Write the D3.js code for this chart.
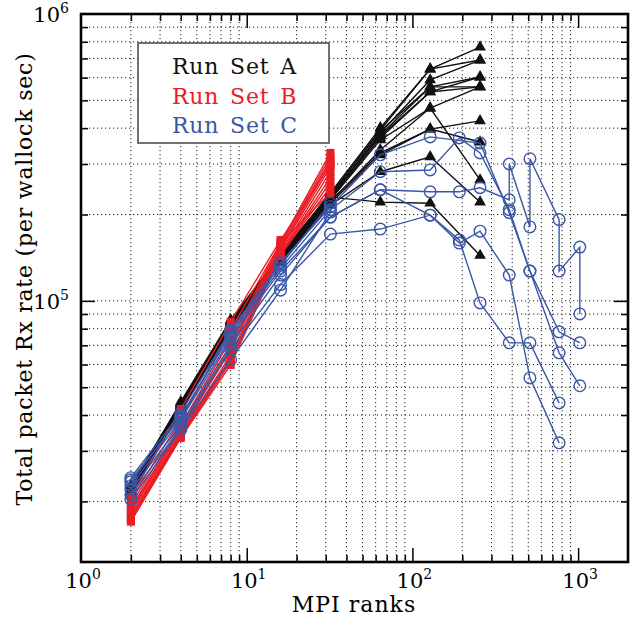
<!DOCTYPE html>
<html>
<head>
<meta charset="utf-8">
<script src="https://cdn.jsdelivr.net/npm/d3@7"></script>
<style>
  body { margin: 0; background: #fff; }
  svg { display: block; font-family: "DejaVu Serif", serif; }
</style>
</head>
<body>
<div id="container"></div>
<script>
// legend / set names
let legendLabels = ["Run Set A", "Run Set B", "Run Set C"];
let setColors = ["#111111", "#ec1c24", "#3a57a7"];

// Run Set A (black triangles), all runs share the same rank counts
let ranksA = [2, 4, 8, 16, 32, 64, 128, 256];
let ratesA = [
  [2.20e4, 4.45e4, 8.59e4, 1.45e5, 2.38e5, 4.01e5, 6.43e5, 7.67e5],
  [2.23e4, 4.38e4, 8.45e4, 1.44e5, 2.34e5, 3.94e5, 6.43e5, 6.91e5],
  [2.16e4, 4.31e4, 8.32e4, 1.41e5, 2.30e5, 3.85e5, 5.89e5, 6.91e5],
  [2.27e4, 4.41e4, 8.52e4, 1.44e5, 2.36e5, 3.91e5, 5.57e5, 6.03e5],
  [2.20e4, 4.34e4, 8.38e4, 1.42e5, 2.32e5, 3.79e5, 5.57e5, 5.57e5],
  [2.14e4, 4.24e4, 8.25e4, 1.40e5, 2.29e5, 3.76e5, 5.35e5, 5.57e5],
  [2.21e4, 4.31e4, 8.32e4, 1.41e5, 2.27e5, 3.70e5, 5.35e5, 6.03e5],
  [2.18e4, 4.27e4, 8.18e4, 1.39e5, 2.25e5, 3.64e5, 4.70e5, 5.57e5],
  [2.13e4, 4.20e4, 8.05e4, 1.37e5, 2.21e5, 3.36e5, 4.70e5, 2.64e5],
  [2.11e4, 4.17e4, 8.12e4, 1.37e5, 2.23e5, 3.28e5, 3.97e5, 4.24e5],
  [2.16e4, 4.24e4, 8.18e4, 1.38e5, 2.19e5, 3.23e5, 3.97e5, 3.58e5],
  [2.09e4, 4.14e4, 7.92e4, 1.36e5, 2.16e5, 2.82e5, 3.18e5, 2.21e5],
  [2.13e4, 4.17e4, 8.05e4, 1.37e5, 2.30e5, 2.21e5, 2.19e5, 1.44e5]
];

// Run Set B (red squares)
let ranksB = [2, 4, 8, 16, 32];
let ratesB = [
  [1.95e4, 3.70e4, 7.31e4, 1.59e5, 3.28e5],
  [1.90e4, 3.61e4, 7.03e4, 1.57e5, 3.18e5],
  [1.87e4, 3.55e4, 6.86e4, 1.54e5, 3.10e5],
  [1.84e4, 3.50e4, 6.75e4, 1.52e5, 3.03e5],
  [1.80e4, 3.44e4, 6.48e4, 1.51e5, 2.93e5],
  [1.77e4, 3.41e4, 6.33e4, 1.48e5, 2.82e5],
  [1.74e4, 3.39e4, 6.23e4, 1.46e5, 2.70e5],
  [1.71e4, 3.36e4, 6.13e4, 1.45e5, 2.60e5],
  [1.70e4, 3.33e4, 5.98e4, 1.44e5, 2.50e5],
  [2.03e4, 3.85e4, 7.92e4, 1.59e5, 2.38e5],
  [2.08e4, 4.20e4, 8.45e4, 1.63e5, 2.98e5]
];

// Run Set C (blue circles), each run has its own rank list
let ranksC = [
  [2, 4, 8, 16, 32, 64, 128, 256, 384, 512, 768, 1024],
  [2, 4, 8, 16, 32, 64, 128, 192, 256, 384, 512, 768, 1024],
  [2, 4, 8, 16, 32, 64, 128, 192, 256, 384, 384, 512, 512, 768, 768, 1024, 1024],
  [2, 4, 8, 16, 32, 64, 128, 192, 256, 384, 512, 768],
  [2, 4, 8, 16, 32, 64, 128, 192, 256, 384, 512, 768],
  [2, 4, 8, 16, 32],
  [2, 4, 8, 16, 32]
];
let ratesC = [
  [2.42e4, 4.07e4, 7.92e4, 1.36e5, 2.13e5, 3.23e5, 3.73e5, 3.55e5, 2.03e5, 1.27e5, 6.59e4, 5.06e4],
  [2.34e4, 3.97e4, 7.61e4, 1.30e5, 2.08e5, 2.82e5, 2.86e5, 3.70e5, 3.28e5, 2.08e5, 1.27e5, 7.80e4, 7.14e4],
  [2.27e4, 3.85e4, 7.43e4, 1.27e5, 1.96e5, 2.44e5, 2.40e5, 2.40e5, 2.48e5, 2.25e5, 3.00e5, 1.81e5, 3.13e5, 1.92e5, 1.27e5, 1.54e5, 9.01e4],
  [2.20e4, 3.70e4, 7.03e4, 1.23e5, 1.96e5, 2.44e5, 1.99e5, 1.63e5, 9.84e4, 7.14e4, 7.14e4, 4.41e4],
  [2.11e4, 3.61e4, 6.75e4, 1.14e5, 1.71e5, 1.78e5, 1.99e5, 1.59e5, 1.75e5, 1.23e5, 5.39e4, 3.20e4],
  [2.38e4, 3.91e4, 7.80e4, 1.33e5, 2.19e5],
  [2.03e4, 3.55e4, 6.23e4, 1.09e5, 2.04e5]
];

// labelled decades
let xTicks = [1, 10, 100, 1000];
let yTicks = [1e5, 1e6];

let w = 634;
let h = 619;
let padLeft = 81, padRight = 628, padTop = 14, padBottom = 562;

let viz = d3.select("#container")
  .append("svg")
    .attr("width", w)
    .attr("height", h)
;

let xScale = d3.scaleLog().domain([1, 2000]).range([padLeft, padRight]);
let yScale = d3.scaleLog().domain([1.23e4, 1e6]).range([padBottom, padTop]);

let isDecade = function(v){ return Math.abs(Math.log10(v) - Math.round(Math.log10(v))) < 1e-9; };
let xMinor = xScale.ticks().filter(function(v){ return !isDecade(v) && v < 2000; });
let yMinor = yScale.ticks().filter(function(v){ return !isDecade(v); });

// dotted grid
let grid = viz.append("g").attr("class", "grid")
  .attr("stroke", "#222")
  .attr("stroke-width", 1)
  .attr("stroke-dasharray", "1.2,2.8");
grid.selectAll(".gx").data(xMinor).enter()
  .append("line")
    .attr("x1", function(d){ return xScale(d); })
    .attr("x2", function(d){ return xScale(d); })
    .attr("y1", padTop)
    .attr("y2", padBottom);
grid.selectAll(".gy").data(yMinor.concat([1e5])).enter()
  .append("line")
    .attr("y1", function(d){ return yScale(d); })
    .attr("y2", function(d){ return yScale(d); })
    .attr("x1", padLeft)
    .attr("x2", padRight);

// inward ticks on all four sides
function tickAxis(axisFn, values, size, transform){
  let g = viz.append("g")
    .attr("transform", transform)
    .call(axisFn.tickValues(values).tickSize(size).tickFormat(""));
  g.select(".domain").remove();
  g.selectAll(".tick line").attr("stroke", "#000").attr("stroke-width", 1.5);
  return g;
}
tickAxis(d3.axisBottom(xScale), xMinor, -7, "translate(0," + padBottom + ")");
tickAxis(d3.axisBottom(xScale), xTicks.slice(1), -14, "translate(0," + padBottom + ")");
tickAxis(d3.axisTop(xScale), xMinor, -7, "translate(0," + padTop + ")");
tickAxis(d3.axisTop(xScale), xTicks.slice(1), -14, "translate(0," + padTop + ")");
tickAxis(d3.axisLeft(yScale), yMinor, -7, "translate(" + padLeft + ",0)");
tickAxis(d3.axisLeft(yScale), [1e5], -14, "translate(" + padLeft + ",0)");
tickAxis(d3.axisRight(yScale), yMinor, -7, "translate(" + padRight + ",0)");
tickAxis(d3.axisRight(yScale), [1e5], -14, "translate(" + padRight + ",0)");

// series
let lineMaker = d3.line()
  .x(function(d){ return xScale(d[0]); })
  .y(function(d){ return yScale(d[1]); });

function pairs(ranks, rates){
  return rates.map(function(r){ return r.map(function(v, i){ return [ranks[i], v]; }); });
}
let seriesA = pairs(ranksA, ratesA);
let seriesB = pairs(ranksB, ratesB);
let seriesC = ratesC.map(function(r, k){ return r.map(function(v, i){ return [ranksC[k][i], v]; }); });

let plot = viz.append("g").attr("class", "plot");

function drawSet(series, color, marker){
  let g = plot.append("g");
  g.selectAll(".line").data(series).enter()
    .append("path")
      .attr("d", lineMaker)
      .attr("fill", "none")
      .attr("stroke", color)
      .attr("stroke-width", 1.4);
  let pts = series.flat();
  if(marker == "circle"){
    g.selectAll(".pt").data(pts).enter()
      .append("circle")
        .attr("cx", function(d){ return xScale(d[0]); })
        .attr("cy", function(d){ return yScale(d[1]); })
        .attr("r", 5.8)
        .attr("fill", "none")
        .attr("stroke", color)
        .attr("stroke-width", 1.4);
  }else{
    let sym = d3.symbol().type(marker == "square" ? d3.symbolSquare : d3.symbolTriangle)
      .size(marker == "square" ? 64 : 60);
    g.selectAll(".pt").data(pts).enter()
      .append("path")
        .attr("d", sym)
        .attr("transform", function(d){ return "translate(" + xScale(d[0]) + "," + yScale(d[1]) + ")"; })
        .attr("fill", color);
  }
}
drawSet(seriesA, setColors[0], "triangle");
drawSet(seriesB, setColors[1], "square");
drawSet(seriesC, setColors[2], "circle");

// box
viz.append("rect")
  .attr("x", padLeft).attr("y", padTop)
  .attr("width", padRight - padLeft).attr("height", padBottom - padTop)
  .attr("fill", "none").attr("stroke", "#000").attr("stroke-width", 2.6);

// tick labels as 10 with superscript exponent
function powerLabel(sel){
  sel.append("tspan").text("10");
  sel.append("tspan")
    .attr("font-size", 14)
    .attr("dy", -9)
    .text(function(d){ return Math.round(Math.log10(d)); });
}
viz.selectAll(".xlab").data(xTicks).enter()
  .append("text")
    .attr("x", function(d){ return xScale(d) + 2; })
    .attr("y", 588)
    .attr("text-anchor", "middle")
    .attr("font-size", 21)
    .call(powerLabel);
viz.selectAll(".ylab").data(yTicks).enter()
  .append("text")
    .attr("x", 69)
    .attr("y", function(d){ return yScale(d) + 8; })
    .attr("text-anchor", "end")
    .attr("font-size", 21)
    .call(powerLabel);

// axis titles
viz.append("text")
  .attr("x", 354)
  .attr("y", 612)
  .attr("text-anchor", "middle")
  .attr("font-size", 22)
  .attr("letter-spacing", 1)
  .text("MPI ranks");
viz.append("text")
  .attr("transform", "translate(32,279) rotate(-90)")
  .attr("text-anchor", "middle")
  .attr("font-size", 22)
  .attr("letter-spacing", 0.8)
  .text("Total packet Rx rate (per wallock sec)");

// legend
let legend = viz.append("g").attr("class", "legend");
legend.append("rect")
  .attr("x", 138).attr("y", 43)
  .attr("width", 191).attr("height", 100)
  .attr("fill", "#fff")
  .attr("stroke", "#444")
  .attr("stroke-width", 1.5);
legend.selectAll("text").data(legendLabels).enter()
  .append("text")
    .attr("x", 172)
    .attr("y", function(d, i){ return 74 + i * 29.5; })
    .attr("font-size", 22)
    .attr("letter-spacing", 0.8)
    .attr("word-spacing", 3)
    .attr("fill", function(d, i){ return setColors[i]; })
    .text(function(d){ return d; });
</script>
</body>
</html>
